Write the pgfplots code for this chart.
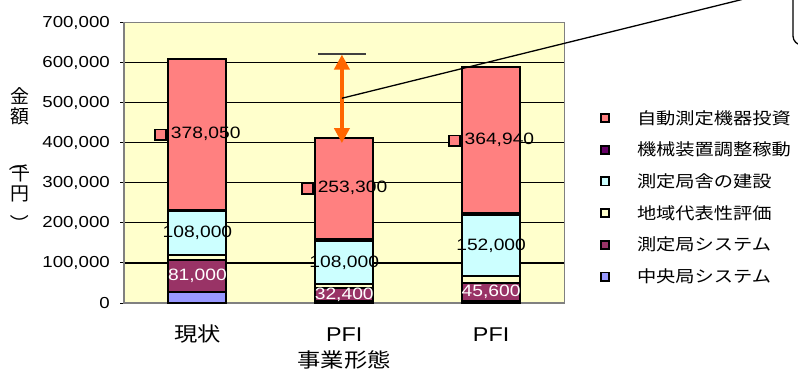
\documentclass[border=0pt]{standalone}
\usepackage{pgfplots}
\pgfplotsset{compat=1.18}
\usepackage{pgfplotstable}
\usepackage{fontspec}
\setmainfont{Liberation Sans}[FakeStretch=1.17]
\newfontfamily\cjk{Noto Sans CJK JP}[FakeStretch=1.17]
\newfontfamily\cjkv{Noto Sans CJK JP}
\usetikzlibrary{arrows.meta}
\definecolor{cSalmon}{HTML}{FF8080}
\definecolor{cPurple}{HTML}{660066}
\definecolor{cCyan}{HTML}{CCFFFF}
\definecolor{cYellow}{HTML}{FFFFCC}
\definecolor{cMaroon}{HTML}{993366}
\definecolor{cBlue}{HTML}{9999FF}
\definecolor{cBg}{HTML}{FFFFCC}
\definecolor{cOrange}{HTML}{FF6600}

\pgfplotstableread{
x blue maroon yellow cyan purple salmon
0 27000 81000 13000 108000 3000 378050
1 5000 32400 10000 108000 4000 253300
2 4000 45600 18000 152000 4000 364940
}\costs

\pgfplotstableread{
x ymaroon vmaroon ycyan vcyan ysalmon vsalmon
0 67500 81000 175000 108000 421025 378050
1 21200 32400 101400 108000 286050 253300
2 26800 45600 143600 152000 406070 364940
}\labels

\newcommand{\keysq}{{\setlength\fboxrule{1.8bp}\setlength\fboxsep{0pt}\raisebox{-0.5bp}{\fcolorbox{black}{cSalmon}{\hbox to 9bp{\vrule width 0pt height 9bp\hfil}}}}\hspace{4bp}}
\newcommand{\ylfont}{\cjkv\fontsize{19}{19}\selectfont}

\begin{document}
\begin{tikzpicture}[x=1bp,y=1bp]
\useasboundingbox (0,0) rectangle (798,-375);
\begin{axis}[
  at={(124bp,-303bp)}, anchor=south west,
  scale only axis, width=440.5bp, height=280.5bp,
  xmin=-0.5, xmax=2.5, ymin=0, ymax=700000,
  ybar stacked, bar width=58bp,
  axis background/.style={fill=cBg},
  axis line style={draw=gray, line width=1.4bp},
  ytick={0,100000,200000,300000,400000,500000,600000,700000},
  scaled y ticks=false,
  /pgf/number format/fixed,
  /pgf/number format/1000 sep={,},
  /pgf/number format/assume math mode=true,
  ymajorgrids, grid style={black, line width=1.2bp},
  ytick style={black, line width=1bp}, ytick pos=left, ytick align=outside, major tick length=4bp,
  yticklabel style={inner sep=0pt, xshift=-10bp, font=\fontsize{16}{16}\selectfont},
  xtick={0,1,2}, xticklabels={{\cjk 現状},PFI,PFI},
  x tick style={draw=none},
  xticklabel style={anchor=base, inner sep=0pt, yshift=-38bp, font=\fontsize{20}{20}\selectfont},
  extra x ticks={0.5,1.5}, extra x tick labels={},
  extra x tick style={grid=none, tick align=inside, major tick length=6bp, tick style={draw=black, line width=1bp}},
  xlabel={\cjk 事業形態},
  xlabel style={at={(axis description cs:0.5,0)}, anchor=base, inner sep=0pt, yshift=-64bp, font=\fontsize{20}{20}\selectfont},
  legend image code/.code={\draw[#1, line width=1.8bp] (0bp,-4.1bp) rectangle (8.2bp,4.1bp);},
  reverse legend,
  legend cell align=left,
  legend style={at={(1.0806,0.716)}, anchor=north west, draw=none, fill=none,
    inner sep=0pt, outer sep=0pt, row sep=0pt, column sep=27bp,
    nodes={inner sep=0pt, minimum height=31.7bp},
    font=\cjk\fontsize{16.5}{16.5}\selectfont},
]
\addplot[fill=cBlue, draw=black, line width=2bp] table[x=x,y=blue]{\costs};
\addlegendentry{中央局システム}
\addplot[fill=cMaroon, draw=black, line width=2bp] table[x=x,y=maroon]{\costs};
\addlegendentry{測定局システム}
\addplot[fill=cYellow, draw=black, line width=2bp] table[x=x,y=yellow]{\costs};
\addlegendentry{地域代表性評価}
\addplot[fill=cCyan, draw=black, line width=2bp] table[x=x,y=cyan]{\costs};
\addlegendentry{測定局舎の建設}
\addplot[fill=cPurple, draw=black, line width=2bp] table[x=x,y=purple]{\costs};
\addlegendentry{機械装置調整稼動}
\addplot[fill=cSalmon, draw=black, line width=2bp] table[x=x,y=salmon]{\costs};
\addlegendentry{自動測定機器投資}
\end{axis}

\begin{axis}[
  at={(124bp,-303bp)}, anchor=south west,
  scale only axis, width=440.5bp, height=280.5bp,
  xmin=-0.5, xmax=2.5, ymin=0, ymax=700000,
  hide axis, clip=false,
  /pgf/number format/fixed,
  /pgf/number format/1000 sep={,},
  /pgf/number format/assume math mode=true,
]
\addplot[draw=none, mark=none, point meta=explicit,
  nodes near coords={\pgfmathprintnumber{\pgfplotspointmeta}},
  nodes near coords style={anchor=center, inner sep=0pt, text=white, font=\fontsize{16.5}{16.5}\selectfont}]
  table[x=x, y=ymaroon, meta=vmaroon]{\labels};
\addplot[draw=none, mark=none, point meta=explicit,
  nodes near coords={\pgfmathprintnumber{\pgfplotspointmeta}},
  nodes near coords style={anchor=center, inner sep=0pt, text=black, font=\fontsize{16.5}{16.5}\selectfont}]
  table[x=x, y=ycyan, meta=vcyan]{\labels};
\addplot[draw=none, mark=none, point meta=explicit,
  nodes near coords={\keysq\pgfmathprintnumber{\pgfplotspointmeta}},
  nodes near coords style={anchor=center, inner sep=0pt, text=black, font=\fontsize{16.5}{16.5}\selectfont}]
  table[x=x, y=ysalmon, meta=vsalmon]{\labels};
\draw[black!75, line width=1.3bp] (axis cs:0.824,621700) -- (axis cs:1.148,621700);
\draw[cOrange, line width=4.5bp, {Triangle[width=15bp,length=15bp]}-{Triangle[width=15bp,length=15bp]}]
  (axis cs:0.984,620000) -- (axis cs:0.984,399000);
\coordinate (callstart) at (axis cs:0.984,511000);
\end{axis}

\draw[black, line width=1.3bp] (callstart) -- (742,0.5);
\draw[black, line width=1.3bp, rounded corners=9bp] (793,20) -- (793,-45) -- (850,-45);

\node[inner sep=0pt, font=\ylfont] at (20,-96) {金};
\node[inner sep=0pt, font=\ylfont] at (20,-116) {額};
\node[inner sep=0pt, font=\ylfont, rotate=-90] at (19,-162) {（};
\node[inner sep=0pt, font=\ylfont] at (21,-173) {千};
\node[inner sep=0pt, font=\ylfont] at (20,-194) {円};
\node[inner sep=0pt, font=\ylfont, rotate=-90] at (20,-224) {）};
\end{tikzpicture}
\end{document}
